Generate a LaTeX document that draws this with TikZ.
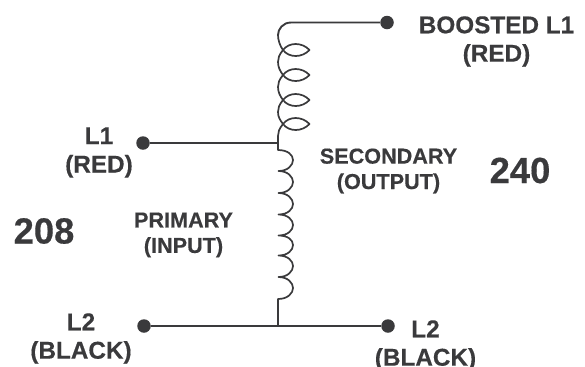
\documentclass[tikz,border=0pt]{standalone}
\usepackage{fontspec}
\setmainfont[BoldFeatures={FakeBold=0.4}]{Liberation Sans}
\definecolor{ink}{HTML}{3A3A3C}
\tikzset{
  wire/.style={draw=ink,line width=1.9bp,line join=round},
  coil/.style={draw=ink,line width=1.7bp,line join=round},
  term/.style={circle,fill=ink,inner sep=0pt,minimum size=13.5bp},
  lab/.style={text=ink,font=\bfseries\fontsize{24.4}{28.5}\selectfont,align=center,inner sep=0pt},
  slab/.style={text=ink,font=\bfseries\fontsize{21.7}{25.5}\selectfont,align=center,inner sep=0pt},
  volt/.style={text=ink,font=\bfseries\fontsize{36.5}{40}\selectfont,inner sep=0pt}
}
\begin{document}
\begin{tikzpicture}[x=1bp,y=-1bp]
\useasboundingbox (0,0) rectangle (585,366);
\node[term] (boost) at (387,22.5) {};
\node[term] (inL) at (143,143) {};
\node[term] (inB) at (144,326) {};
\node[term] (outB) at (388,326) {};
\coordinate (top) at (278,143);
\coordinate (bot) at (278,326);
\draw[wire] (inL) -- (top);
\draw[wire] (inB) -- (outB);
\draw[wire] (boost) -- (291,22.5) .. controls (283,22.5) and (278,29) .. (278,35);
\draw[coil] (278,35) .. controls (278,40) and (280,46) .. (283,50)
  .. controls (289,58) and (302,58) .. (309.5,50)
  .. controls (302,42) and (289,42) .. (283,50)
  .. controls (279,55) and (278,58) .. (278,62)
  .. controls (278,67) and (280,71) .. (283,75)
  .. controls (289,83) and (302,83) .. (309.5,75)
  .. controls (302,67) and (289,67) .. (283,75)
  .. controls (279,80) and (278,83) .. (278,87)
  .. controls (278,92) and (280,96) .. (283,100)
  .. controls (289,108) and (302,108) .. (309.5,100)
  .. controls (302,92) and (289,92) .. (283,100)
  .. controls (279,105) and (278,108) .. (278,112)
  .. controls (278,117) and (280,120) .. (283,124)
  .. controls (289,132) and (302,132) .. (309.5,124)
  .. controls (302,116) and (289,116) .. (283,124)
  .. controls (279,129) and (278,132) .. (278,136) -- (top);
\draw[coil] (top) -- (278,150)
  .. controls (288,150) and (293,155) .. (293,160) .. controls (293,165) and (288,171) .. (278.5,171)
  .. controls (288,171) and (293,177) .. (293,182) .. controls (293,187) and (288,193) .. (278.5,193)
  .. controls (288,193) and (293,199) .. (293,204) .. controls (293,209) and (288,214.5) .. (278.5,214.5)
  .. controls (288,214.5) and (293,220) .. (293,225) .. controls (293,230) and (288,235.5) .. (278.5,235.5)
  .. controls (288,235.5) and (293,240) .. (293,245) .. controls (293,250) and (288,255.5) .. (278.5,255.5)
  .. controls (288,255.5) and (293,261) .. (293,266) .. controls (293,271) and (288,277) .. (278.5,277)
  .. controls (288,277) and (293,283) .. (293,288) .. controls (293,293) and (288,299) .. (278,299)
  -- (bot);
\node[lab] (boostlab) at (496.5,41.5) {BOOSTED L1\\(RED)};
\node[lab] (l1lab) at (99,152.5) {L1\\(RED)};
\node[slab] (seclab) at (388.5,171) {SECONDARY\\(OUTPUT)};
\node[slab] (prilab) at (183.5,235) {PRIMARY\\(INPUT)};
\node[volt] (v240) at (520,170.5) {240};
\node[volt] (v208) at (44,231) {208};
\node[lab] (l2a) at (81,338.5) {L2\\(BLACK)};
\node[lab] (l2b) at (425.5,345.5) {L2\\(BLACK)};
\end{tikzpicture}
\end{document}
